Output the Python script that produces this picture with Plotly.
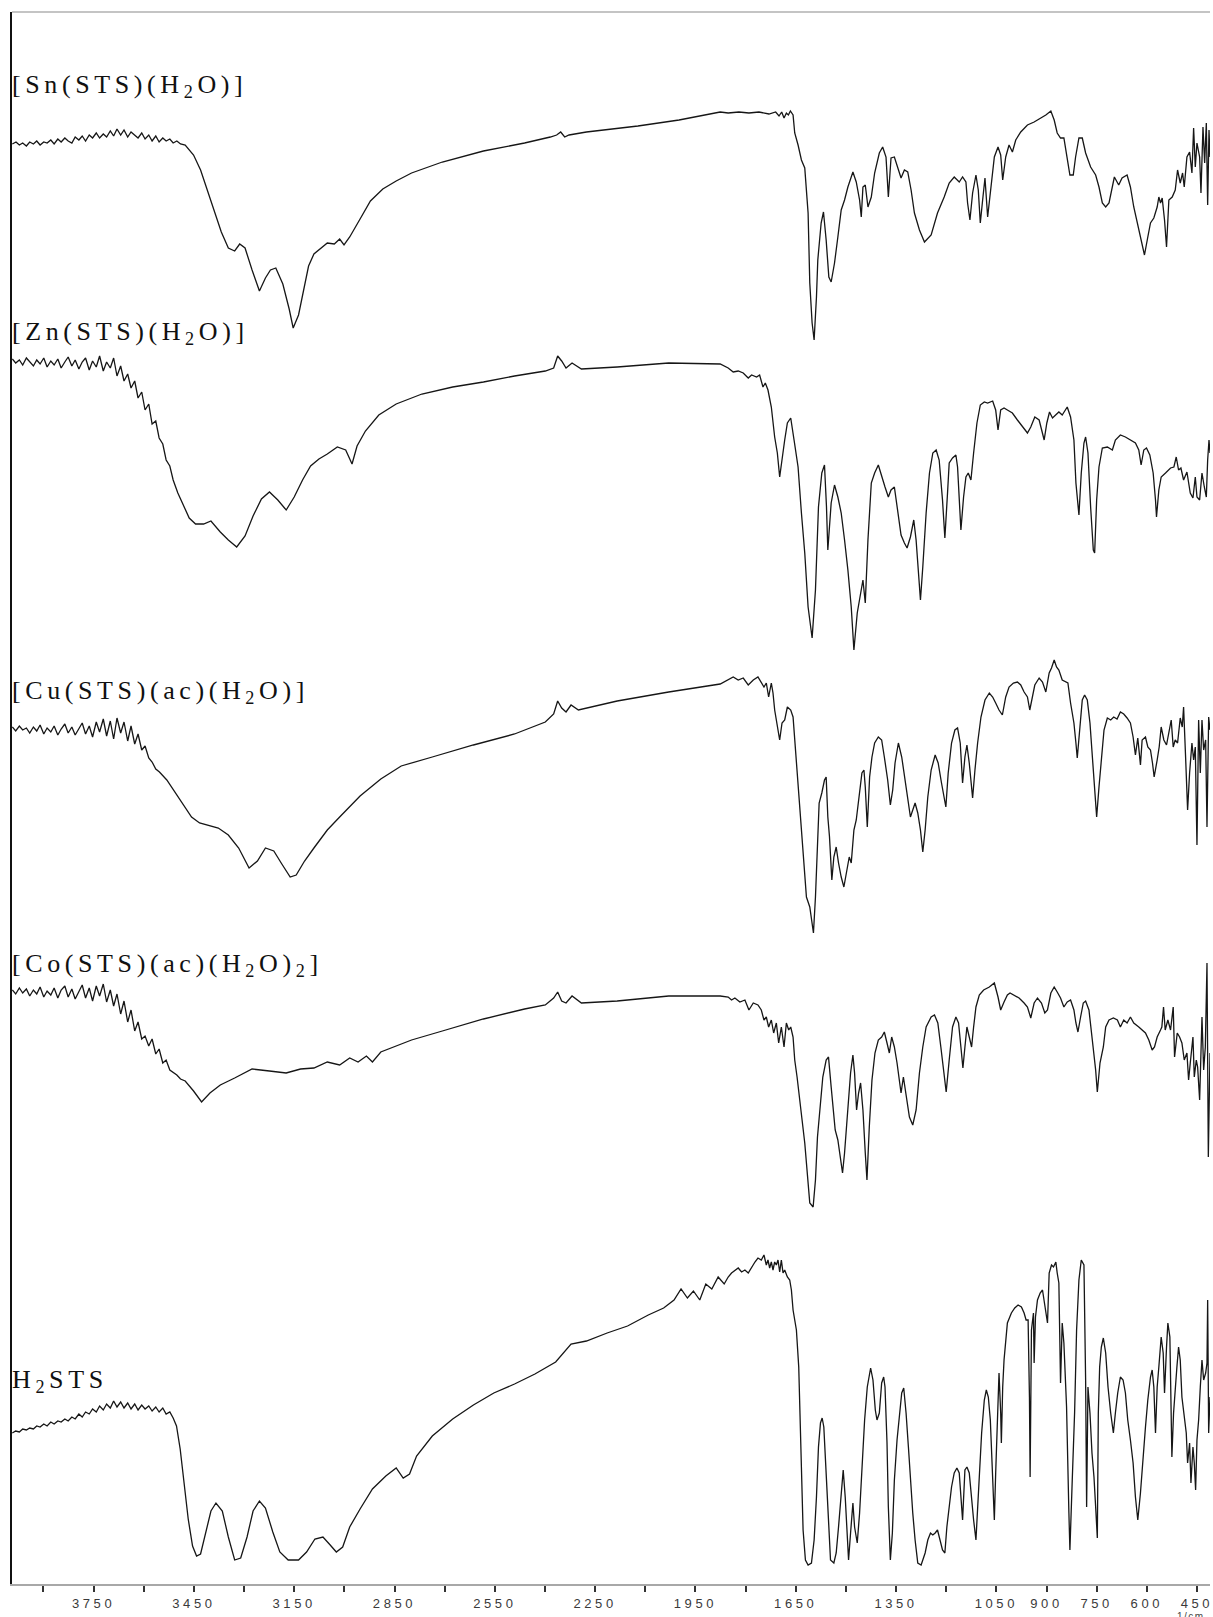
import plotly.graph_objects as go

# FT-IR spectra of H2STS and its metal complexes, stacked vertically.
# Each list holds (wavenumber in cm-1, stacked intensity in a.u.).

SN = [(3993,1440),(3982,1442),(3972,1439),(3962,1441),(3951,1438),(3941,1442),(3930,1440),(3920,1443),(3910,1439),
      (3899,1442),(3889,1441),(3878,1444),(3868,1440),(3857,1445),(3847,1442),(3836,1446),(3826,1443),(3815,1441),
      (3805,1447),(3794,1444),(3784,1448),(3774,1443),(3763,1449),(3753,1446),(3742,1451),(3732,1446),(3721,1450),
      (3711,1447),(3700,1453),(3690,1448),(3680,1455),(3669,1449),(3659,1454),(3648,1447),(3638,1452),(3627,1449),
      (3617,1446),(3606,1451),(3596,1445),(3585,1449),(3575,1443),(3564,1448),(3554,1442),(3543,1446),(3533,1443),
      (3522,1445),(3512,1441),(3501,1443),(3490,1440),(3476,1439),
      (3451,1429),(3430,1414),(3399,1383),(3368,1352),(3347,1336),(3328,1333),(3313,1340),
      (3297,1336),(3276,1314),(3254,1293),(3236,1306),(3221,1314),(3205,1316),(3184,1300),(3165,1275),(3153,1256),
      (3137,1269),(3119,1300),(3107,1318),(3091,1330),(3070,1336),(3051,1341),(3030,1340),(3014,1345),(3001,1339),
      (2984,1347),(2953,1365),(2922,1383),(2885,1395),(2845,1403),(2799,1411),(2707,1422),(2584,1433),(2461,1441),
      (2384,1447),(2365,1449),(2353,1452),(2341,1447),(2328,1449),(2276,1452),(2122,1458),(1999,1464),(1876,1472),
      (1852,1471),(1820,1472),(1790,1471),(1760,1472),(1730,1470),(1710,1472),(1700,1468),(1692,1472),(1685,1466),
      (1678,1471),(1672,1469),(1666,1473),(1663,1471),(1658,1469),(1653,1451),(1643,1439),(1633,1424),(1623,1416),
      (1613,1371),(1608,1301),(1601,1261),(1595,1244),(1588,1287),(1584,1324),(1574,1361),(1567,1372),(1559,1344),
      (1551,1307),(1544,1302),(1534,1321),(1524,1347),(1514,1374),(1504,1384),(1494,1397),(1479,1412),(1469,1402),
      (1459,1384),(1454,1367),(1449,1397),(1442,1399),(1434,1377),(1424,1387),(1414,1411),(1400,1431),(1390,1437),
      (1380,1427),(1373,1387),(1365,1426),(1355,1427),(1345,1416),(1335,1406),(1325,1414),(1315,1412),(1305,1394),
      (1295,1371),(1280,1354),(1265,1342),(1245,1349),(1226,1371),(1206,1387),(1191,1401),(1176,1407),(1161,1402),
      (1151,1407),(1141,1402),(1136,1381),(1129,1364),(1121,1391),(1111,1409),(1104,1394),(1098,1361),(1091,1384),
      (1084,1406),(1076,1367),(1066,1397),(1056,1427),(1045,1437),(1037,1429),(1031,1404),(1022,1427),(1012,1439),
      (1002,1432),(992,1444),(977,1452),(957,1459),(937,1462),(917,1466),(902,1469),(887,1473),(877,1464),(868,1451),
      (858,1446),(848,1446),(838,1427),(830,1409),(820,1409),(813,1427),(803,1446),(793,1446),(783,1431),(768,1417),
      (753,1409),(743,1397),(733,1381),(723,1377),(713,1381),(703,1397),(697,1407),(684,1399),(674,1406),(659,1409),
      (649,1397),(639,1377),(624,1354),(614,1337),(607,1329),(597,1347),(589,1361),(579,1366),(569,1377),(564,1387),
      (559,1381),(554,1386),(547,1364),(541,1337),(534,1384),(524,1387),(515,1394),(508,1414),(500,1401),(493,1411),
      (488,1397),(480,1427),(472,1432),(465,1411),(460,1456),(455,1417),(450,1441),(442,1427),(438,1391),(432,1457),
      (427,1421),(422,1461),(418,1379),(414,1454),(411,1427)]

ZN = [(3993,1225),(3983,1221),(3972,1224),(3962,1219),(3951,1226),(3941,1222),(3930,1218),(3920,1224),(3910,1220),
      (3899,1226),(3889,1217),(3878,1223),(3868,1219),(3857,1225),(3847,1216),(3836,1222),(3826,1227),(3815,1218),
      (3805,1224),(3794,1215),(3784,1222),(3774,1226),(3763,1214),(3753,1223),(3742,1217),(3732,1228),(3721,1213),
      (3711,1222),(3700,1216),(3690,1226),(3680,1208),(3669,1218),(3659,1203),(3648,1210),(3638,1196),(3627,1203),
      (3617,1186),(3606,1192),(3596,1174),(3585,1180),(3575,1160),(3564,1163),(3554,1146),(3543,1140),(3533,1124),
      (3522,1118),(3512,1104),(3498,1091),(3482,1079),(3464,1066),(3445,1060),
      (3421,1060),(3399,1063),(3371,1052),(3347,1044),(3322,1037),(3297,1048),(3273,1068),(3248,1085),(3224,1092),
      (3199,1084),(3174,1074),(3150,1087),(3125,1104),(3101,1118),(3076,1125),(3051,1130),(3021,1137),(2996,1134),
      (2977,1120),(2962,1138),(2937,1153),(2897,1169),(2845,1180),(2768,1190),(2676,1197),(2584,1202),(2491,1208),
      (2399,1213),(2374,1216),(2362,1228),(2350,1223),(2337,1216),(2319,1221),(2291,1215),(2184,1217),(2030,1221),
      (1876,1220),(1852,1216),(1837,1212),(1822,1213),(1807,1211),(1792,1206),(1782,1209),(1767,1207),(1758,1209),
      (1748,1197),(1741,1201),(1733,1194),(1728,1186),(1723,1177),(1713,1147),(1705,1131),(1698,1107),(1691,1127),
      (1683,1144),(1675,1161),(1665,1166),(1655,1144),(1643,1117),(1633,1071),(1623,1031),(1613,977),(1601,946),
      (1591,994),(1582,1077),(1572,1111),(1564,1119),(1558,1077),(1554,1034),(1544,1081),(1534,1099),(1524,1087),
      (1514,1071),(1504,1044),(1494,1014),(1484,977),(1476,934),(1466,971),(1456,991),(1449,1004),(1442,981),
      (1434,1044),(1424,1101),(1414,1111),(1403,1119),(1393,1107),(1383,1097),(1373,1087),(1365,1094),(1355,1097),
      (1345,1071),(1335,1049),(1325,1041),(1317,1036),(1307,1047),(1297,1064),(1290,1044),(1283,1011),(1277,984),
      (1270,1017),(1260,1071),(1250,1111),(1240,1131),(1230,1134),(1221,1124),(1211,1084),(1204,1046),(1196,1091),
      (1191,1121),(1181,1126),(1171,1129),(1166,1117),(1161,1091),(1156,1054),(1148,1087),(1141,1107),(1134,1111),
      (1126,1104),(1118,1131),(1108,1161),(1098,1179),(1086,1182),(1076,1181),(1061,1183),(1052,1174),(1045,1154),
      (1037,1174),(1027,1176),(1017,1174),(1002,1171),(987,1164),(972,1157),(957,1151),(947,1157),(935,1167),
      (922,1164),(915,1154),(907,1144),(899,1161),(891,1172),(882,1166),(872,1169),(863,1172),(853,1169),(843,1174),
      (838,1177),(828,1167),(818,1144),(812,1101),(808,1084),(803,1069),(796,1111),(788,1141),(783,1147),(776,1131),
      (768,1077),(760,1034),(756,1031),(750,1084),(743,1117),(733,1136),(718,1137),(703,1134),(694,1144),(679,1149),
      (664,1147),(649,1144),(634,1141),(624,1134),(617,1119),(609,1134),(601,1136),(591,1129),(581,1111),(574,1084),
      (571,1067),(564,1094),(557,1107),(544,1111),(529,1116),(519,1117),(512,1127),(505,1114),(498,1116),(490,1104),
      (480,1112),(470,1091),(462,1086),(455,1107),(450,1087),(442,1084),(435,1111),(428,1097),(422,1087),(418,1124),
      (414,1144),(411,1131)]

CU = [(3993,857),(3983,853),(3972,858),(3962,854),(3951,856),(3941,851),(3930,857),(3920,853),(3910,859),(3899,850),
      (3889,856),(3878,852),(3868,858),(3857,849),(3847,855),(3836,860),(3826,851),(3815,857),(3805,849),(3794,856),
      (3784,861),(3774,850),(3763,858),(3753,847),(3742,862),(3732,852),(3721,865),(3711,848),(3700,863),(3690,845),
      (3680,866),(3669,851),(3659,862),(3648,843),(3638,858),(3627,840),(3617,850),(3606,834),(3596,838),(3585,826),
      (3575,822),(3564,815),(3553,812),(3531,804),(3507,792),
      (3482,779),(3457,767),(3433,761),(3408,759),(3377,756),(3347,749),(3316,736),(3285,716),(3260,723),(3236,736),
      (3211,733),(3187,720),(3162,707),(3144,709),(3119,723),(3091,736),(3051,754),(3014,767),(2953,788),(2891,805),
      (2830,818),(2737,827),(2614,839),(2491,850),(2399,862),(2374,870),(2362,883),(2350,876),(2337,872),(2322,879),
      (2300,874),(2184,883),(2030,892),(1876,900),(1852,904),(1837,907),(1822,904),(1807,906),(1792,899),(1777,904),
      (1763,907),(1753,902),(1745,897),(1738,901),(1731,887),(1723,901),(1718,891),(1713,874),(1705,857),(1698,844),
      (1691,861),(1683,864),(1675,877),(1665,874),(1658,867),(1648,821),(1638,774),(1628,727),(1618,687),(1608,677),
      (1601,657),(1597,651),(1591,687),(1586,724),(1580,781),(1572,791),(1564,804),(1559,807),(1554,767),(1549,747),
      (1542,704),(1536,727),(1529,737),(1522,721),(1514,707),(1506,697),(1498,714),(1490,727),(1484,721),(1476,754),
      (1469,764),(1459,791),(1452,811),(1446,814),(1442,797),(1436,757),(1429,807),(1422,827),(1414,841),(1403,847),
      (1393,844),(1385,827),(1375,804),(1367,779),(1360,794),(1353,821),(1343,841),(1333,827),(1323,804),(1315,784),
      (1307,767),(1300,774),(1293,781),(1285,771),(1277,754),(1270,732),(1263,754),(1255,787),(1245,814),(1233,829),
      (1224,821),(1214,801),(1201,777),(1194,811),(1184,841),(1174,854),(1166,856),(1158,841),(1151,801),(1144,827),
      (1138,839),(1131,821),(1124,797),(1121,786),(1114,814),(1106,841),(1096,867),(1084,884),(1071,891),(1061,887),
      (1052,881),(1042,874),(1032,869),(1022,887),(1012,897),(999,901),(987,902),(977,899),(967,892),(957,887),
      (950,874),(942,889),(935,899),(922,906),(912,902),(902,892),(892,911),(885,916),(877,924),(870,917),(863,914),
      (853,904),(843,902),(836,901),(828,881),(818,861),(812,841),(808,826),(800,857),(793,884),(786,889),(778,884),
      (770,861),(763,831),(756,797),(750,767),(743,797),(736,827),(728,854),(718,866),(708,864),(699,867),(689,865),
      (679,872),(669,870),(659,866),(649,861),(641,847),(634,829),(627,846),(619,819),(614,844),(604,847),(597,837),
      (589,834),(583,821),(578,807),(569,824),(563,837),(557,857),(549,844),(541,839),(534,851),(527,864),(521,837),
      (515,844),(508,841),(500,866),(494,857),(490,877),(484,827),(478,774),(472,811),(465,841),(460,824),(455,837),
      (450,739),(445,864),(440,811),(435,864),(430,834),(424,844),(420,757),(415,867),(411,854)]

CO = [(3993,594),(3983,590),(3972,596),(3962,591),(3951,595),(3941,588),(3930,594),(3920,590),(3910,597),(3899,587),
      (3889,593),(3878,589),(3868,596),(3857,586),(3847,594),(3836,598),(3826,587),(3815,595),(3805,585),(3794,593),
      (3784,599),(3774,586),(3763,596),(3753,583),(3742,598),(3732,588),(3721,600),(3711,582),(3700,594),(3690,578),
      (3680,590),(3669,570),(3659,583),(3648,562),(3638,574),(3627,553),(3617,562),(3606,545),(3596,548),(3585,538),
      (3575,545),(3564,530),(3554,535),(3543,521),(3533,524),(3522,514),(3512,512),(3501,509),(3490,505),(3476,503),
      (3451,493),(3427,482),(3402,491),(3371,499),(3328,506),(3276,515),(3224,513),(3174,511),
      (3131,515),(3091,516),(3051,522),(3014,519),(2984,526),(2959,522),(2934,528),(2916,522),(2891,532),(2845,538),
      (2799,544),(2707,553),(2584,565),(2461,575),(2399,579),(2374,586),(2362,592),(2350,583),(2337,581),(2319,588),
      (2291,581),(2184,583),(2030,588),(1876,588),(1852,587),(1842,584),(1832,586),(1817,582),(1802,584),(1790,574),
      (1777,581),(1763,579),(1753,574),(1745,564),(1738,567),(1731,557),(1723,564),(1716,551),(1708,561),(1701,541),
      (1693,557),(1685,537),(1678,561),(1671,554),(1665,557),(1658,547),(1653,524),(1646,507),(1638,487),(1631,464),
      (1623,441),(1615,404),(1608,381),(1598,377),(1591,404),(1585,447),(1578,477),(1569,507),(1559,524),(1552,527),
      (1544,497),(1538,471),(1532,454),(1524,444),(1516,424),(1510,411),(1504,431),(1494,477),(1486,511),(1479,529),
      (1474,511),(1468,474),(1462,491),(1456,501),(1449,474),(1442,431),(1437,404),(1430,457),(1422,504),(1413,531),
      (1403,544),(1393,547),(1385,552),(1377,541),(1370,531),(1363,547),(1355,537),(1347,521),(1340,504),(1335,491),
      (1328,507),(1320,487),(1310,467),(1300,459),(1290,474),(1280,511),(1270,537),(1260,557),(1245,567),(1235,569),
      (1225,561),(1216,537),(1206,507),(1200,492),(1191,524),(1181,557),(1171,567),(1163,561),(1156,537),(1150,516),
      (1144,537),(1138,557),(1131,547),(1124,537),(1118,557),(1111,577),(1101,589),(1088,594),(1071,597),(1056,601),
      (1045,587),(1037,574),(1027,582),(1017,589),(1009,591),(997,589),(982,586),(967,581),(957,577),(947,566),
      (937,581),(927,586),(915,581),(905,571),(897,574),(887,591),(877,597),(868,592),(858,586),(848,577),(838,582),
      (828,584),(818,574),(812,561),(806,552),(798,567),(790,581),(783,583),(773,574),(763,544),(753,514),(748,492),
      (740,521),(730,537),(723,557),(713,564),(700,566),(688,564),(679,557),(669,564),(659,561),(649,567),(639,561),
      (624,557),(614,554),(604,551),(594,544),(584,534),(577,537),(569,547),(559,554),(555,557),(550,577),(545,554),
      (537,564),(529,554),(521,577),(517,527),(509,551),(502,547),(495,541),(488,524),(480,531),(475,504),(470,521),
      (462,547),(458,507),(452,524),(448,517),(442,484),(435,567),(430,514),(425,537),(420,621),(416,427),(411,531)]

H2STS = [(3993,151),(3983,153),(3972,152),(3962,155),(3951,154),(3941,156),(3930,155),(3920,158),(3910,157),
         (3899,160),(3889,158),(3878,162),(3868,160),(3857,163),(3847,162),(3836,165),(3826,163),(3815,167),
         (3805,165),(3794,170),(3784,167),(3774,172),(3763,170),(3753,175),(3742,172),(3732,178),(3721,174),
         (3711,180),(3700,176),(3690,183),(3680,177),(3669,182),(3659,176),(3648,181),(3638,175),(3627,180),
         (3617,174),(3606,179),(3596,175),(3585,178),(3575,173),(3564,177),(3554,172),(3543,176),(3533,170),
         (3522,172),(3512,166),(3502,158),(3491,135),(3479,100),(3467,65),(3454,38),(3442,28),(3430,30),
         (3414,52),(3399,73),(3384,81),(3365,73),(3347,47),(3328,24),(3310,26),(3291,47),
         (3273,73),(3254,83),(3236,76),(3214,52),(3193,32),(3168,24),(3137,24),(3113,32),(3088,45),(3064,47),
         (3045,40),(3024,32),(3005,37),(2984,57),(2953,75),(2916,95),(2876,108),(2845,116),(2824,106),(2805,110),
         (2784,128),(2737,148),(2676,165),(2614,179),(2553,191),(2491,200),(2430,210),(2368,222),(2322,240),
         (2276,243),(2214,251),(2153,258),(2091,269),(2045,276),(2014,284),(1993,295),(1974,286),(1956,293),
         (1937,284),(1919,300),(1901,295),(1882,307),(1864,300),(1852,307),(1842,311),(1832,314),(1822,316),
         (1812,312),(1802,314),(1792,311),(1782,317),(1772,322),(1763,326),(1753,324),(1745,329),(1738,319),
         (1733,324),(1728,316),(1723,322),(1718,314),(1713,322),(1708,319),(1703,324),(1698,312),(1693,324),
         (1688,311),(1683,314),(1675,307),(1668,304),(1663,294),(1658,274),(1653,264),(1648,254),(1641,217),
         (1635,137),(1628,54),(1621,24),(1613,19),(1603,21),(1595,44),(1588,87),(1582,137),(1576,161),(1571,166),
         (1566,157),(1562,127),(1558,101),(1552,57),(1546,24),(1536,21),(1529,31),(1522,57),(1516,81),(1508,114),
         (1502,87),(1496,44),(1492,24),(1486,51),(1479,81),(1474,57),(1466,41),(1459,71),(1452,117),(1444,164),
         (1436,197),(1426,216),(1419,204),(1412,174),(1407,164),(1400,171),(1393,201),(1387,207),(1383,197),
         (1377,141),(1373,77),(1367,24),(1361,51),(1355,104),(1347,144),(1340,171),(1333,191),(1327,196),
         (1320,171),(1313,137),(1307,104),(1300,71),(1293,44),(1285,21),(1275,19),(1263,31),(1255,44),(1247,51),
         (1240,49),(1233,51),(1226,54),(1219,44),(1211,34),(1204,31),(1198,57),(1191,77),(1184,97),(1176,111),
         (1168,116),(1161,111),(1156,91),(1151,64),(1144,114),(1138,117),(1131,111),(1124,84),(1118,64),(1111,44),
         (1106,71),(1101,107),(1094,151),(1086,184),(1080,194),(1074,187),(1068,164),(1061,104),(1056,64),
         (1052,111),(1047,157),(1042,211),(1037,171),(1035,141),(1031,197),(1027,224),(1017,261),(1005,271),
         (995,276),(985,279),(975,277),(967,271),(961,264),(955,264),(951,187),(949,107),(945,254),(939,271),
         (937,221),(933,267),(927,284),(919,291),(912,294),(907,284),(902,271),(897,261),(892,311),(885,319),
         (879,317),(872,322),(868,311),(863,301),(858,201),(853,261),(848,241),(840,177),(833,71),(830,34),
         (823,104),(816,171),(810,254),(803,304),(796,324),(788,319),(783,204),(780,77),(776,197),(770,171),
         (764,131),(758,107),(752,71),(748,46),(745,171),(741,217),(736,237),(730,246),(723,231),(716,197),
         (708,171),(700,151),(694,171),(687,191),(679,207),(671,204),(664,191),(657,164),(649,144),(641,121),
         (634,87),(627,64),(619,91),(611,131),(604,157),(597,184),(589,207),(584,214),(579,197),(574,151),
         (569,197),(564,217),(557,247),(551,231),(547,191),(541,237),(537,261),(531,247),(527,187),(525,127),
         (520,171),(515,197),(510,217),(505,237),(500,224),(495,187),(488,164),(482,151),(478,121),(472,141),
         (468,101),(462,137),(458,121),(454,94),(450,144),(445,164),(440,197),(435,224),(430,204),(424,211),
         (420,221),(418,284),(415,151),(411,187)]

SPECTRA = [SN, ZN, CU, CO, H2STS]

# Compound labels and the intensity level each label sits at
LABELS = ["[Sn(STS)(H<sub>2</sub>O)]",
          "[Zn(STS)(H<sub>2</sub>O)]",
          "[Cu(STS)(ac)(H<sub>2</sub>O)]",
          "[Co(STS)(ac)(H<sub>2</sub>O)<sub>2</sub>]",
          "H<sub>2</sub>STS"]
LABEL_LEVELS = [1498, 1251, 892, 619, 203]

# Labelled wavenumber ticks; unlabelled minor ticks every 150 cm-1
TICK_LABELED = [3750, 3450, 3150, 2850, 2550, 2250, 1950, 1650, 1350, 1050, 900, 750, 600, 450]
MINOR_STEP = 150
UNIT_LABEL = "1/cm"

X_RANGE = [3994, 411]
Y_RANGE = [0, 1572]

fig = go.Figure()
for spec in SPECTRA:
    fig.add_trace(go.Scatter(
        x=[p[0] for p in spec], y=[p[1] for p in spec],
        mode="lines", line=dict(color="#161616", width=1.3),
        hoverinfo="skip", showlegend=False))

for text, lvl in zip(LABELS, LABEL_LEVELS):
    fig.add_annotation(
        x=0, xref="paper", y=lvl, yref="y", xanchor="left", yanchor="middle",
        xshift=-2, showarrow=False,
        text=f'<span style="letter-spacing:4.6px">{text}</span>',
        font=dict(family="Liberation Serif, Times New Roman, serif", size=26, color="#111"))

# unit caption under the last tick label, partly running off the page bottom
fig.add_annotation(
    x=0.984, xref="paper", y=-0.0205, yref="paper", xanchor="center", yanchor="middle",
    showarrow=False, text=f'<span style="letter-spacing:1.5px">{UNIT_LABEL}</span>',
    font=dict(family="Liberation Sans, Arial, sans-serif", size=10, color="#444"))

tick_text = [f'<span style="letter-spacing:3.6px">{v}</span>' for v in TICK_LABELED]

fig.update_xaxes(
    range=X_RANGE, tickmode="array", tickvals=TICK_LABELED, ticktext=tick_text,
    ticklabeloverflow="allow",
    showline=True, linecolor="#a8a8a8", linewidth=2,
    ticks="outside", ticklen=6, tickwidth=1.5, tickcolor="#333",
    minor=dict(tickmode="linear", tick0=450, dtick=MINOR_STEP, ticks="outside",
               ticklen=6, tickwidth=1.5, tickcolor="#333", showgrid=False),
    tickfont=dict(family="Liberation Sans, Arial, sans-serif", size=13, color="#3a3a3a"),
    showgrid=False, zeroline=False)

fig.update_yaxes(
    range=Y_RANGE, showline=True, linecolor="#111", linewidth=1.5,
    showticklabels=False, ticks="", showgrid=False, zeroline=False)

# light frame line along the top edge
fig.add_shape(type="line", xref="paper", yref="paper", x0=0, x1=1, y0=1, y1=1,
              line=dict(color="#c4c4c4", width=2))

fig.update_layout(
    width=1213, height=1617,
    margin=dict(l=12, r=0, t=12, b=33),
    paper_bgcolor="white", plot_bgcolor="white")

fig.write_html("out.html")
